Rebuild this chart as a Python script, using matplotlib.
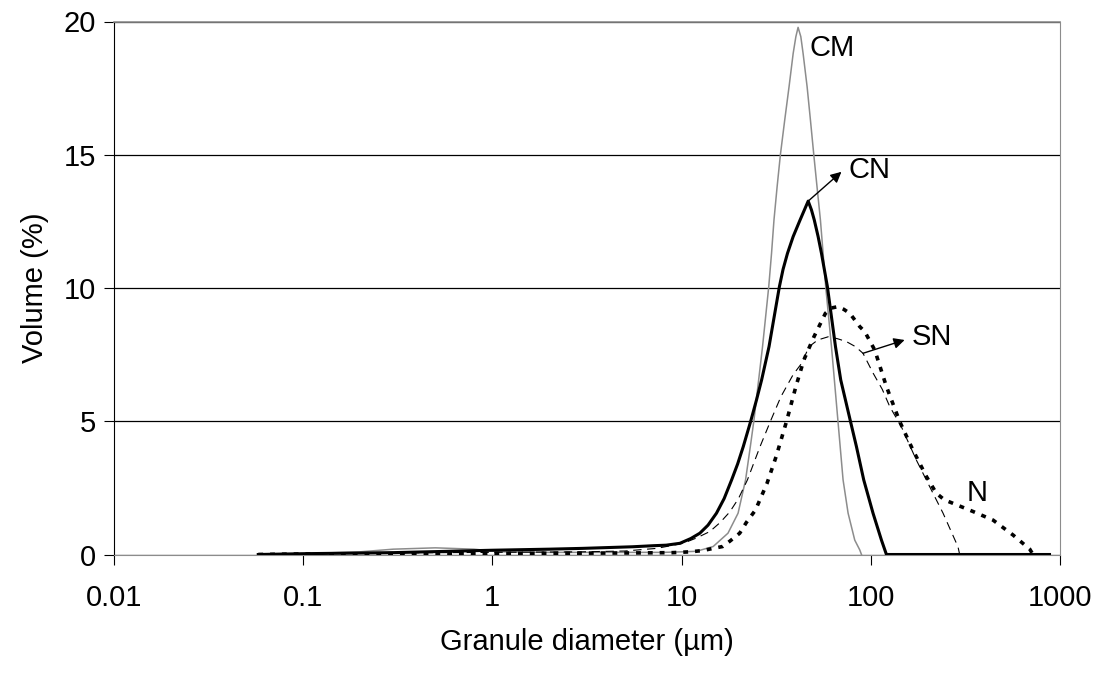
import matplotlib
matplotlib.use("Agg")
import matplotlib.pyplot as plt

plt.rcParams['font.family'] = ['Liberation Sans', 'DejaVu Sans']
plt.rcParams['lines.scale_dashes'] = False

# Granule diameter (um) / volume (%)
cm_x = [0.058, 0.1, 0.2, 0.3, 0.5, 0.8, 1.1, 2, 5, 8, 10, 12.0, 14.7, 17.6, 19.9, 21.8, 23.1,
        24.1, 26.8, 28.9, 29.9, 30.8, 32.0, 33.3, 35.1, 37.0, 38.9, 40.2, 41.3, 42.7, 43.9, 46.1,
        48.0, 50.0, 52.0, 54.2, 56.0, 57.8, 62.0, 67.1, 71.4, 75.9, 82.3, 87.5, 89.3]
cm_y = [0, 0.03, 0.1, 0.2, 0.25, 0.2, 0.1, 0.08, 0.08, 0.08, 0.1, 0.12, 0.3, 0.8, 1.55, 2.8, 4.05,
        5.0, 7.8, 10.05, 11.3, 12.55, 13.8, 15.0, 16.3, 17.55, 18.8, 19.43, 19.78, 19.43, 18.8, 17.55,
        16.3, 15.0, 13.8, 12.55, 11.3, 10.05, 7.8, 5.0, 2.8, 1.55, 0.54, 0.17, 0]

cn_x = [0.058, 0.1, 0.3, 1, 2, 3, 5.5, 7.1, 8.3, 9.8, 11.2, 12.5, 13.8, 15.3, 16.8, 18.4, 19.8,
        21.2, 23.2, 24.9, 26.5, 29.0, 31.1, 32.9, 34.4, 36.3, 38.9, 42.3, 44.6, 46.7, 48.6, 50.3,
        52.7, 54.9, 59.0, 65.1, 69.4, 78.1, 84.0, 91.8, 102.8, 113.9, 121, 880]
cn_y = [0, 0.03, 0.07, 0.16, 0.2, 0.23, 0.29, 0.33, 0.35, 0.42, 0.6, 0.8, 1.1, 1.55, 2.1, 2.8, 3.4,
        4.05, 5.0, 5.8, 6.55, 7.8, 9.05, 10.05, 10.7, 11.3, 11.93, 12.55, 12.93, 13.26, 12.93, 12.55,
        11.93, 11.3, 10.05, 7.8, 6.55, 5.0, 4.05, 2.8, 1.55, 0.54, 0, 0]

sn_x = [0.058, 0.1, 0.3, 1, 3, 5, 7.4, 10.2, 12, 14.1, 16, 18, 20, 22.3, 24, 26, 29.5, 33.5,
        38.9, 43.1, 47.2, 52.5, 59.6, 66.5, 74.3, 83, 91.0, 103, 115, 126, 145, 174, 205, 241,
        289, 295]
sn_y = [0, 0.03, 0.06, 0.08, 0.1, 0.13, 0.23, 0.42, 0.62, 0.86, 1.2, 1.6, 2.1, 2.8, 3.4, 4.05, 5.0,
        5.92, 6.75, 7.17, 7.8, 8.05, 8.17, 8.1, 7.99, 7.8, 7.55, 6.8, 6.2, 5.55, 4.8, 3.55, 2.54, 1.55,
        0.29, 0]

n_x = [0.058, 0.1, 0.3, 1, 3, 6, 9, 11.1, 13.0, 14.7, 16.5, 18, 20.3, 22, 24.6, 28.3, 31.6, 35.9,
       40.2, 44.3, 50.1, 57.6, 62, 67.1, 72, 77.5, 87.5, 93, 105, 121, 142, 167, 197, 222, 245,
       272, 348, 443, 565, 692, 720]
n_y = [0, 0.02, 0.03, 0.04, 0.05, 0.06, 0.07, 0.1, 0.15, 0.23, 0.3, 0.5, 0.8, 1.2, 1.67, 2.67, 3.67,
       5.0, 6.3, 7.3, 8.17, 9.05, 9.25, 9.3, 9.2, 9.05, 8.55, 8.36, 7.67, 6.3, 5.0, 3.92, 2.92, 2.3,
       2.05, 1.92, 1.61, 1.29, 0.73, 0.2, 0]

x_ticks = [0.01, 0.1, 1, 10, 100, 1000]
x_labels = ['0.01', '0.1', '1', '10', '100', '1000']
y_ticks = [0, 5, 10, 15, 20]

fig = plt.figure(figsize=(11.06, 6.75), dpi=100)
ax = fig.add_axes([113.8 / 1106, 1 - 554.5 / 675, (1060 - 113.8) / 1106, (554.5 - 21.5) / 675])

ax.plot(cm_x, cm_y, color='#8c8c8c', lw=1.1, zorder=3, solid_joinstyle='round')
ax.plot(sn_x, sn_y, color='black', lw=0.8, dashes=(6, 4), zorder=3)
ax.plot(n_x, n_y, color='black', lw=2.6, dashes=(3.5, 5), zorder=4)
ax.plot(cn_x, cn_y, color='black', lw=2.2, zorder=5, solid_joinstyle='round')

ax.set_xscale('log')
ax.set_xlim(0.01, 1000)
ax.set_ylim(0, 20)
ax.set_xticks(x_ticks)
ax.set_xticklabels(x_labels)
ax.xaxis.set_minor_locator(matplotlib.ticker.NullLocator())
ax.set_yticks(y_ticks)
ax.tick_params(axis='both', labelsize=21, direction='out', color='black')
ax.tick_params(axis='x', length=7, width=0.8, pad=14)
ax.tick_params(axis='y', length=7, width=0.8, pad=6)

ax.yaxis.grid(True, color='black', lw=0.9)
ax.set_axisbelow(True)
for side in ['top', 'right', 'bottom']:
    ax.spines[side].set_color('#8c8c8c')
ax.spines['left'].set_color('black')
ax.spines['top'].set_linewidth(1.2)

ax.set_xlabel('Granule diameter (µm)', fontsize=21, labelpad=12)
ax.set_ylabel('Volume (%)', fontsize=21, labelpad=10)

arrow = dict(arrowstyle='-|>', color='black', lw=1.0, mutation_scale=16, shrinkA=0, shrinkB=0)
ax.text(47.6, 19.0, 'CM', fontsize=21, va='center', ha='left')
ax.annotate('', xy=(70.0, 14.36), xytext=(46.7, 13.26), arrowprops=arrow, zorder=6)
ax.text(75.9, 14.43, 'CN', fontsize=21, va='center', ha='left')
ax.annotate('', xy=(151, 8.05), xytext=(91.0, 7.55), arrowprops=arrow, zorder=6)
ax.text(164, 8.17, 'SN', fontsize=21, va='center', ha='left')
ax.text(320, 2.3, 'N', fontsize=21, va='center', ha='left')

fig.savefig('out.png', dpi=100)
